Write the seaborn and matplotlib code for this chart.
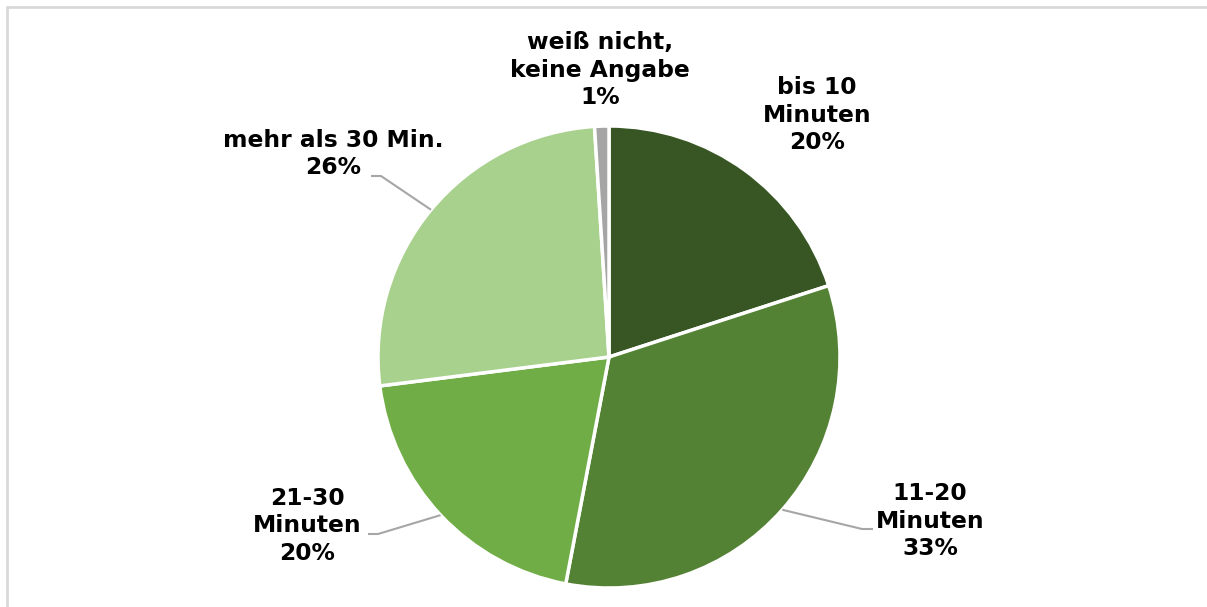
import numpy as np
import matplotlib

matplotlib.use("Agg")
import matplotlib.pyplot as plt
import seaborn as sns

# data (clockwise from 12 o'clock)
labels = ["bis 10\nMinuten", "11-20\nMinuten", "21-30\nMinuten", "mehr als 30 Min.", "weiß nicht,\nkeine Angabe"]
shares = [20, 33, 20, 26, 1]
colors = ["#375623", "#548235", "#70AD47", "#A9D18E", "#A5A5A5"]

W, H = 1207, 607
CX, CY, R = 609, 357, 231  # pie center / radius in pixels (from top)

# label anchor (pixel x, y of block center) and optional leader elbow/end
label_pos = [(817, 115), (930, 521), (307, 526), (333, 154), (600, 70)]
leaders = [None, ((862, 529), (873, 529)), ((378, 534), (368, 534)), ((381, 176), (371, 176)), None]

sns.set_theme(style="white")
plt.rcParams["font.family"] = ["DejaVu Sans"]

fig = plt.figure(figsize=(W / 100, H / 100), dpi=100)
ax = fig.add_axes([0, 0, 1, 1])


def py(y):
    return H - y


wedges, _ = ax.pie(
    shares,
    colors=colors,
    startangle=90,
    counterclock=False,
    center=(CX, py(CY)),
    radius=R,
    wedgeprops=dict(edgecolor="white", linewidth=2.5),
    frame=True,
)
ax.set_xlim(0, W)
ax.set_ylim(0, H)
ax.set_aspect("equal")
ax.axis("off")

for w, lab, val, pos, ld in zip(wedges, labels, shares, label_pos, leaders):
    ax.text(pos[0], py(pos[1]), f"{lab}\n{val}%", ha="center", va="center",
            fontsize=16.8, fontweight="bold", color="black", linespacing=1.24)
    if ld is not None:
        mid = np.deg2rad((w.theta1 + w.theta2) / 2)
        ex, ey = CX + R * np.cos(mid), CY - R * np.sin(mid)
        xs = [ex, ld[0][0], ld[1][0]]
        ys = [py(ey), py(ld[0][1]), py(ld[1][1])]
        ax.plot(xs, ys, color="#A6A6A6", linewidth=1.5, solid_capstyle="butt")

# chart frame (top and left edges visible)
ax.plot([7, W], [py(7), py(7)], color="#D9D9D9", linewidth=2)
ax.plot([7, 7], [py(7), 0], color="#D9D9D9", linewidth=2)

fig.savefig("out.png", dpi=100)
